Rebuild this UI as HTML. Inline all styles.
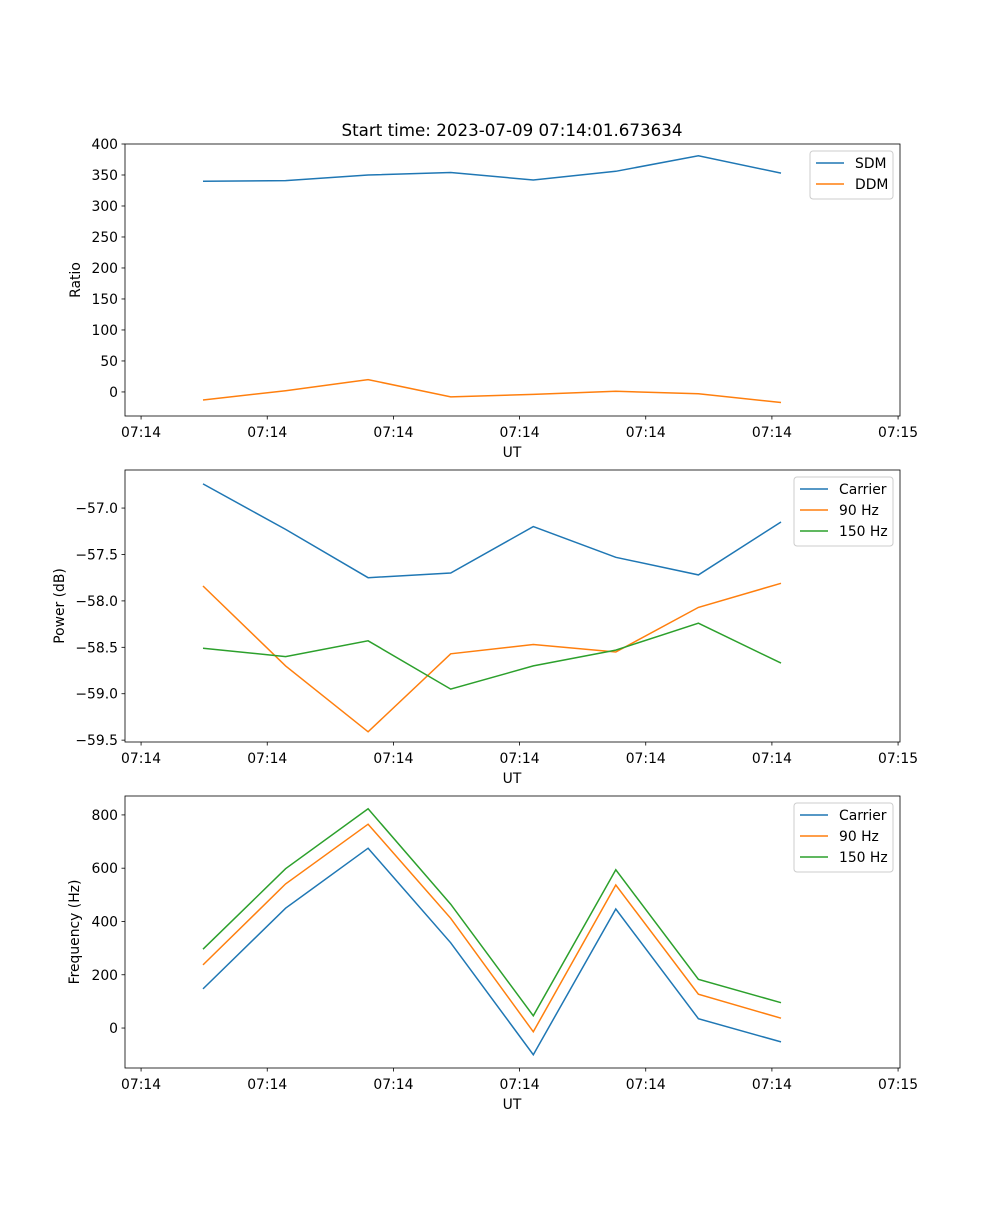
<!DOCTYPE html>
<html><head><meta charset="utf-8"><style>
body{margin:0;background:#fff}
svg{font-family:"DejaVu Sans","Liberation Sans",sans-serif;font-size:13.9px}
</style></head><body>
<svg id="fig" width="1000" height="1200" viewBox="0 0 1000 1200">
<rect width="1000" height="1200" fill="#fff"/>
<text x="512" y="136" text-anchor="middle" font-size="16.7">Start time: 2023-07-09 07:14:01.673634</text>
</svg>
<script>
const xCategories=[0,1,2,3,4,5,6,7];
const xTickValues=[-0.75,0.778,2.306,3.834,5.362,6.89,8.418];
const xTickLabels=["07:14","07:14","07:14","07:14","07:14","07:14","07:15"];
const sdmValues=[340,341,350,354,342,356,381,353];
const ddmValues=[-13,2,20,-8,-4,1,-3,-17];
const powerCarrier=[-56.74,-57.23,-57.75,-57.70,-57.20,-57.53,-57.72,-57.15];
const power90=[-57.84,-58.70,-59.41,-58.57,-58.47,-58.55,-58.07,-57.81];
const power150=[-58.51,-58.60,-58.43,-58.95,-58.70,-58.53,-58.24,-58.67];
const freqCarrier=[147,450,675,320,-100,447,35,-52];
const freq90=[237,541,765,412,-14,537,127,37];
const freq150=[296,598,823,465,46,594,183,95];
const ratioTicks=[0,50,100,150,200,250,300,350,400];
const powerTicks=[-57.0,-57.5,-58.0,-58.5,-59.0,-59.5];
const freqTicks=[0,200,400,600,800];

const svg=document.getElementById('fig');
const NS='http://www.w3.org/2000/svg';
function mk(tag,attrs,parent){const e=document.createElementNS(NS,tag);for(const k in attrs)e.setAttribute(k,attrs[k]);(parent||svg).appendChild(e);return e;}
const L=125,R=900;
function xs(v){return 203+(v)*82.57;}
function panel(name,top,bot,ymin,ymax,yticks,fmt,ylabel,ylx,series,legW){
  const g=mk('g',{});
  
  
  const ys=v=>bot-(v-ymin)/(ymax-ymin)*(bot-top);
  series.forEach(s=>{
    const pts=xCategories.map((c,i)=>xs(c).toFixed(1)+','+ys(s.vals[i]).toFixed(1)).join(' ');
    const p=mk('polyline',{points:pts,fill:'none',stroke:s.color,'stroke-width':1.5},g);
    
    
  });
  mk('rect',{x:L,y:top,width:R-L,height:bot-top,fill:'none',stroke:'#000','stroke-width':0.8},g);
  xTickValues.forEach((t,i)=>{
    const x=xs(t);
    mk('line',{x1:x,x2:x,y1:bot,y2:bot+3.5,stroke:'#000','stroke-width':0.8},g);
    const tx=mk('text',{x:x,y:bot+21,'text-anchor':'middle'},g);tx.textContent=xTickLabels[i];
    
    
  });
  const xl=mk('text',{x:512,y:bot+41,'text-anchor':'middle'},g);xl.textContent='UT';
  
  
  yticks.forEach(t=>{
    const y=ys(t);
    mk('line',{x1:L-3.5,x2:L,y1:y,y2:y,stroke:'#000','stroke-width':0.8},g);
    const tx=mk('text',{x:L-7,y:y+5,'text-anchor':'end'},g);tx.textContent=fmt(t);
    
    
  });
  const mid=(top+bot)/2;
  const yl=mk('text',{x:0,y:0,'text-anchor':'middle',transform:`translate(${ylx},${mid}) rotate(-90)`},g);yl.textContent=ylabel;
  
  
  const lh=series.length*21+6, lx=R-7-legW, ly=top+7;
  const lg=mk('g',{},g);
  
  
  mk('rect',{x:lx,y:ly,width:legW,height:lh,rx:3,fill:'#fff','fill-opacity':0.8,stroke:'#ccc'},lg);
  series.forEach((s,i)=>{
    const y=ly+12+i*21;
    mk('line',{x1:lx+6,x2:lx+34,y1:y,y2:y,stroke:s.color,'stroke-width':1.5},lg);
    const t=mk('text',{x:lx+45,y:y+5},lg);t.textContent=s.label;
    
    
  });
}
const B='#1f77b4',O='#ff7f0e',G='#2ca02c';
panel('ratio',144,416,-38.8,400,ratioTicks,v=>v===0?'0':String(v),'Ratio',80,
 [{key:'sdm',vals:sdmValues,color:B,label:'SDM'},{key:'ddm',vals:ddmValues,color:O,label:'DDM'}],83);
panel('power',470,742,-59.52,-56.59,powerTicks,v=>'\u2212'+Math.abs(v).toFixed(1),'Power (dB)',64,
 [{key:'carrier',vals:powerCarrier,color:B,label:'Carrier'},{key:'90hz',vals:power90,color:O,label:'90 Hz'},{key:'150hz',vals:power150,color:G,label:'150 Hz'}],99);
panel('frequency',796,1068,-150,871,freqTicks,v=>String(v),'Frequency (Hz)',79,
 [{key:'carrier',vals:freqCarrier,color:B,label:'Carrier'},{key:'90hz',vals:freq90,color:O,label:'90 Hz'},{key:'150hz',vals:freq150,color:G,label:'150 Hz'}],99);
</script>
</body></html>
